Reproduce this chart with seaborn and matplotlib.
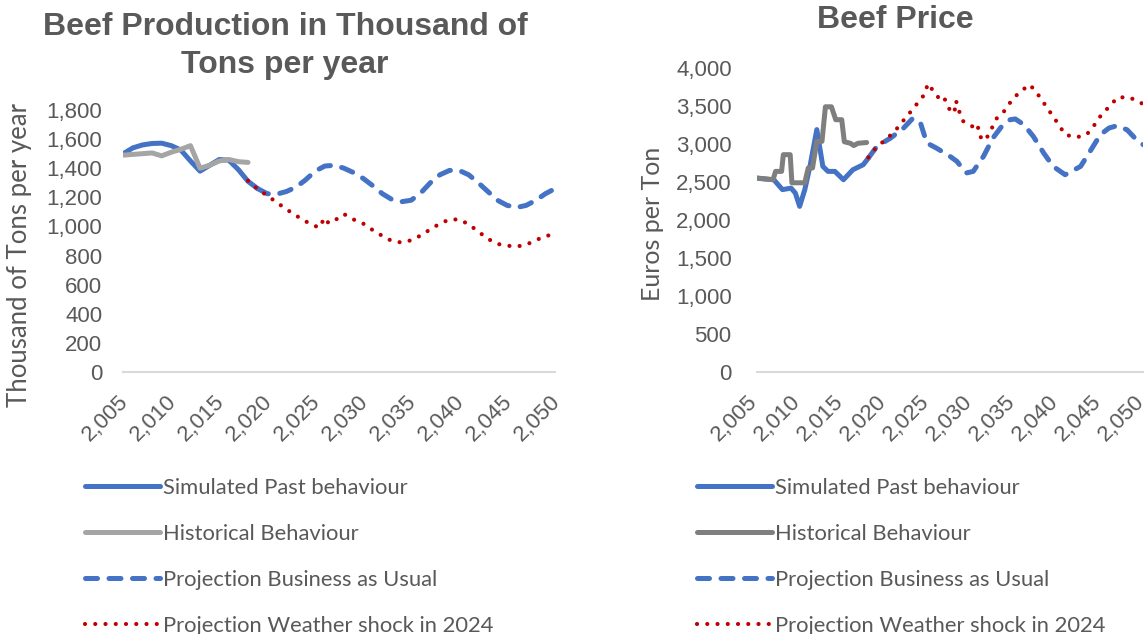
import matplotlib
matplotlib.use("Agg")
import matplotlib.pyplot as plt
from matplotlib.ticker import FuncFormatter, MultipleLocator
from matplotlib.transforms import ScaledTranslation
import seaborn as sns
import pandas as pd

# ---------------- data ----------------
labels = ["Simulated Past behaviour", "Historical Behaviour",
          "Projection Business as Usual", "Projection Weather shock in 2024"]

# Beef production (thousand tons per year)
prod_sim_years = [2005, 2006, 2007, 2008, 2009, 2010, 2011, 2012, 2013, 2014, 2015, 2016, 2017, 2018, 2019]
prod_sim = [1500, 1540, 1560, 1570, 1572, 1555, 1525, 1450, 1380, 1420, 1460, 1455, 1390, 1310, 1260]

prod_hist_years = [2005, 2006, 2007, 2008, 2009, 2010, 2011, 2012, 2013, 2014, 2015, 2016, 2017, 2018]
prod_hist = [1490, 1495, 1500, 1505, 1485, 1510, 1530, 1555, 1400, 1420, 1450, 1460, 1445, 1440]

prod_bau_years = [2019, 2020, 2021, 2022, 2023, 2024, 2025, 2026, 2027, 2028, 2029, 2030, 2031, 2032, 2033, 2034,
                  2035, 2036, 2037, 2038, 2039, 2040, 2041, 2042, 2043, 2044, 2045, 2046, 2047, 2048, 2049, 2050]
prod_bau = [1260, 1225, 1222, 1240, 1270, 1320, 1380, 1415, 1420, 1400, 1370, 1330, 1280, 1225, 1185, 1170,
            1180, 1230, 1300, 1355, 1385, 1385, 1355, 1300, 1240, 1180, 1145, 1130, 1145, 1180, 1225, 1260]

prod_shock_years = [2018, 2019, 2020, 2021, 2022, 2023, 2024, 2025.4, 2026.0, 2026.4, 2027.0, 2028, 2029, 2030,
                    2031, 2032, 2033, 2034, 2035, 2036, 2037, 2038, 2039, 2040, 2041, 2042, 2043, 2044, 2045,
                    2046, 2047, 2048, 2049, 2050]
prod_shock = [1314, 1257, 1212, 1165, 1118, 1075, 1035, 991, 1060, 1022, 1040, 1085, 1048, 1020,
              975, 935, 900, 890, 905, 938, 980, 1020, 1048, 1048, 1015, 965, 915, 880, 868,
              862, 875, 905, 935, 945]

# Beef price (euros per ton)
price_sim_years = [2005, 2007, 2008, 2009, 2009.5, 2010, 2010.6, 2011.2, 2012.0, 2012.7, 2013.3, 2014.1,
                   2015.1, 2016.2, 2017.4, 2018.0]
price_sim = [2553, 2530, 2400, 2420, 2355, 2180, 2400, 2706, 3190, 2706, 2640, 2640, 2530, 2662, 2728, 2816]

price_hist_years = [2005, 2006.9, 2007.2, 2007.9, 2008.1, 2008.9, 2009.1, 2010.6, 2011.0, 2011.5, 2012.0,
                    2012.6, 2013.0, 2013.7, 2014.2, 2014.9, 2015.2, 2015.9, 2016.3, 2016.8, 2017.8]
price_hist = [2550, 2530, 2640, 2640, 2860, 2860, 2490, 2490, 2685, 2685, 3035, 3035, 3490, 3490, 3320,
              3320, 3030, 3010, 2980, 3010, 3020]

price_bau_years = [2018.0, 2019.0, 2020.6, 2022.1, 2023.1, 2024.0, 2024.8, 2025.9, 2027.5, 2028.3, 2029.4,
                   2030.2, 2031.4, 2032.5, 2033.5, 2034.5, 2035.1, 2036.1, 2037.2, 2038.4, 2039.5, 2040.9,
                   2042.7, 2043.8, 2045.0, 2046.0, 2046.9, 2048.1, 2049.2, 2050]
price_bau = [2816, 2970, 3080, 3211, 3330, 3300, 3014, 2948, 2838, 2772, 2619, 2640, 2838, 3080, 3230, 3320,
             3330, 3254, 3100, 2882, 2706, 2596, 2706, 2904, 3123, 3210, 3240, 3188, 3057, 2990]

price_shock_years = [2018.0, 2018.9, 2019.9, 2021.0, 2021.9, 2022.8, 2023.7, 2024.6, 2024.9, 2025.8, 2026.5,
                     2026.9, 2027.5, 2028.0, 2028.2, 2028.5, 2029.0, 2030.1, 2030.7, 2030.9, 2031.6, 2032.3,
                     2032.9, 2033.9, 2034.7, 2035.7, 2036.8, 2037.7, 2038.5, 2039.3, 2040.1, 2040.9, 2042.2,
                     2043.4, 2044.3, 2045.1, 2046.1, 2047.0, 2048.4, 2049.7, 2050]
price_shock = [2824, 2952, 3048, 3158, 3285, 3408, 3535, 3662, 3794, 3666, 3557, 3588, 3443, 3408, 3570, 3452,
               3303, 3232, 3268, 3106, 3044, 3193, 3333, 3443, 3580, 3693, 3781, 3658, 3527, 3395, 3264,
               3123, 3088, 3123, 3250, 3382, 3500, 3614, 3614, 3540, 3530]

# ---------------- style ----------------
sns.set_theme(style="white")
plt.rcParams["font.family"] = ["Liberation Sans", "DejaVu Sans"]
TXT = "#595959"
BLUE = "#4472C4"
RED = "#C00000"
CAL = ["Lato", "DejaVu Sans"]

fig = plt.figure(figsize=(11.47, 6.34), dpi=100)
ax1 = fig.add_axes([0.1075, 0.4132, 0.3764, 0.4133])
ax2 = fig.add_axes([0.6597, 0.4132, 0.3371, 0.4795])

LW = 3.6
dash_style = (0, (2.4, 2.3))
dot_style = (0, (0.01, 2.45))


def draw(ax, sy, sv, hy, hv, by, bv, wy, wv, gray, xoff):
    series = [
        (sy, sv, BLUE, "-", LW, labels[0]),
        (hy, hv, gray, "-", LW, labels[1]),
        (by, bv, BLUE, dash_style, LW, labels[2]),
        (wy, wv, RED, dot_style, 3.0, labels[3]),
    ]
    for xs, ys, col, ls, lw, lab in series:
        df = pd.DataFrame({"year": xs, "value": ys})
        sns.lineplot(data=df, x="year", y="value", ax=ax, color=col, linewidth=lw,
                     linestyle=ls, estimator=None, sort=False, label=lab,
                     solid_capstyle="round", dash_capstyle="round", legend=False)
    ax.set_xlim(2005, 2050)
    ax.xaxis.set_major_locator(MultipleLocator(5))
    fmt = FuncFormatter(lambda v, p: f"{v:,.0f}")
    ax.xaxis.set_major_formatter(fmt)
    ax.yaxis.set_major_formatter(fmt)
    for s in ["top", "right", "left"]:
        ax.spines[s].set_visible(False)
    ax.spines["bottom"].set_color("#D9D9D9")
    ax.spines["bottom"].set_linewidth(1.5)
    ax.set_xlabel("")
    ax.set_ylabel("")
    ax.tick_params(axis="both", length=0, labelsize=16, labelcolor=TXT)
    ax.tick_params(axis="x", pad=18)
    off = ScaledTranslation(xoff / 100, 0, fig.dpi_scale_trans)
    for t in ax.get_xticklabels():
        t.set_rotation(45)
        t.set_ha("right")
        t.set_va("center_baseline")
        t.set_rotation_mode("anchor")
        t.set_transform(t.get_transform() + off)
    ax.grid(False)
    ax.set_facecolor("white")


draw(ax1, prod_sim_years, prod_sim, prod_hist_years, prod_hist, prod_bau_years, prod_bau,
     prod_shock_years, prod_shock, "#A5A5A5", 0)
ax1.set_ylim(0, 1800)
ax1.yaxis.set_major_locator(MultipleLocator(200))
ax1.tick_params(axis="y", pad=15)

draw(ax2, price_sim_years, price_sim, price_hist_years, price_hist, price_bau_years, price_bau,
     price_shock_years, price_shock, "#7F7F7F", -4)
ax2.set_ylim(0, 4000)
ax2.yaxis.set_major_locator(MultipleLocator(500))
ax2.tick_params(axis="y", pad=18)

# titles
fig.text(285 / 1147, 1 - 46 / 634, "Beef Production in Thousand of\nTons per year", ha="center", va="center",
         fontsize=23, fontweight="bold", color=TXT, linespacing=1.32)
fig.text(895 / 1147, 1 - 20 / 634, "Beef Price", ha="center", va="center",
         fontsize=23, fontweight="bold", color=TXT)

# axis titles
fig.text(20 / 1147, 1 - 255 / 634, "Thousand of Tons per year", rotation=90, ha="center", va="center",
         fontsize=18.5, color=TXT, family=CAL)
fig.text(652 / 1147, 1 - 224 / 634, "Euros per Ton", rotation=90, ha="center", va="center",
         fontsize=18, color=TXT, family=CAL)

# legends
for ax, x0 in [(ax1, 85), (ax2, 697)]:
    handles = ax.get_lines()[:4]
    fig.legend(handles, labels, loc="upper left", bbox_to_anchor=(x0 / 1147, 1 - 478 / 634),
               frameon=False, handlelength=3.4, handletextpad=0.15, labelspacing=1.18,
               prop={"family": CAL, "size": 15.8}, labelcolor=TXT,
               borderaxespad=0, borderpad=0)

fig.savefig("out.png", dpi=100, facecolor="white")
